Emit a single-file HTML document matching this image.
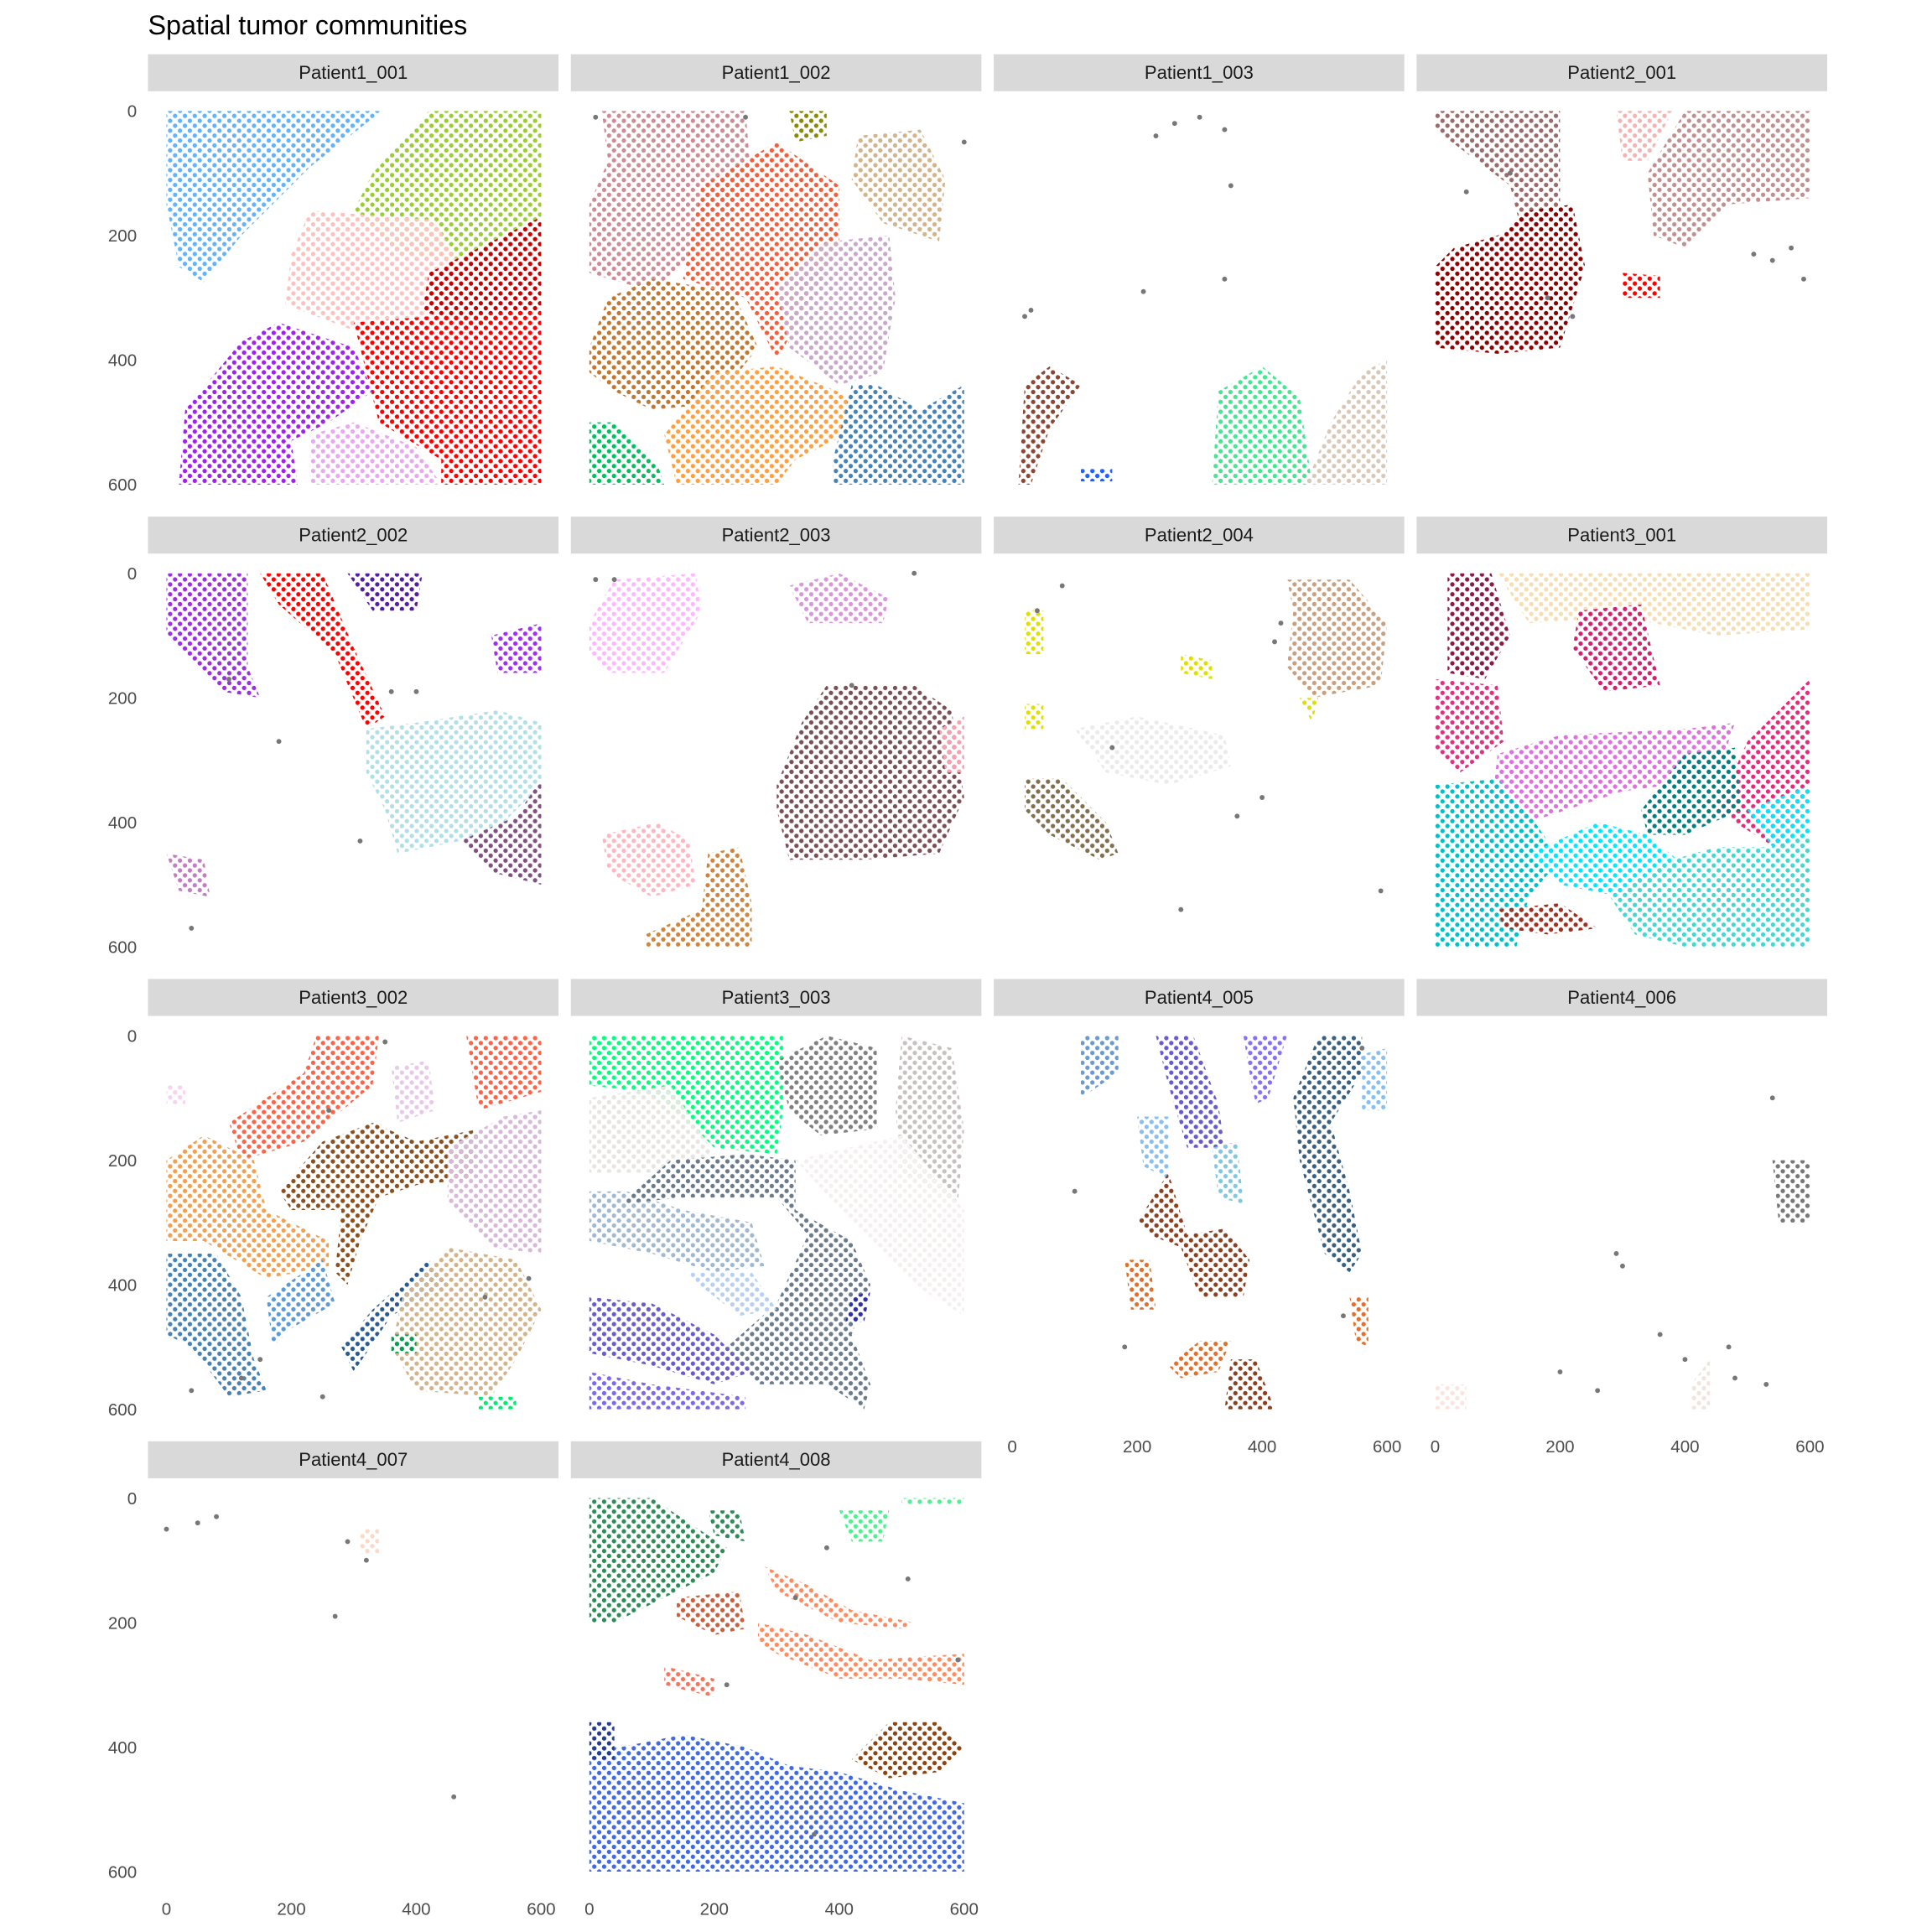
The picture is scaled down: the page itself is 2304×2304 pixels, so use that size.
<!DOCTYPE html>
<html><head><meta charset="utf-8"><style>
html,body{margin:0;padding:0;background:#fff}
svg{display:block}
text{font-family:"Liberation Sans",sans-serif}
</style></head><body>
<svg id="chart" width="2304" height="2304" viewBox="0 0 1567 1567" xmlns="http://www.w3.org/2000/svg">
<defs id="defs"></defs>
<text x="120" y="28" font-size="22" fill="#000">Spatial tumor communities</text>
<g id="panels"></g>
</svg>
<script>
const panelNames=["Patient1_001","Patient1_002","Patient1_003","Patient2_001","Patient2_002","Patient2_003","Patient2_004","Patient3_001","Patient3_002","Patient3_003","Patient4_005","Patient4_006","Patient4_007","Patient4_008"];
const tickValues=[0,200,400,600];
const communityPanel=[];
const communityColor=[];
const communityPoly=[];
function C(p,c,poly){communityPanel.push(p);communityColor.push(c);communityPoly.push(poly);}
// Patient1_001
C(0,"#63b3f9",[[0,0],[345,0],[230,90],[120,200],[60,275],[20,250],[0,150]]);
C(0,"#9acd32",[[420,0],[600,0],[600,170],[480,240],[370,230],[300,160],[330,100]]);
C(0,"#ffc0c0",[[230,160],[430,175],[470,250],[420,340],[320,360],[240,330],[190,310],[200,230]]);
C(0,"#c40000",[[420,260],[600,170],[600,320],[480,350],[410,320]]);
C(0,"#ff0000",[[300,340],[420,330],[600,320],[600,600],[440,600],[440,560],[340,500],[320,420]]);
C(0,"#a020f0",[[20,600],[30,480],[120,370],[180,340],[300,380],[330,450],[260,500],[200,530],[210,600]]);
C(0,"#e8a8ef",[[230,520],[300,500],[400,540],[440,600],[230,600]]);
// Patient1_002
C(1,"#cd8c95",[[20,0],[250,0],[260,120],[200,200],[100,290],[0,260],[0,150],[30,80]]);
C(1,"#f0603f",[[180,120],[300,50],[400,120],[400,220],[300,400],[250,300],[150,270]]);
C(1,"#8b8b00",[[320,0],[380,0],[380,40],[330,50]]);
C(1,"#d2b48c",[[430,40],[530,30],[570,110],[560,210],[470,180],[420,110]]);
C(1,"#c8a8c8",[[300,280],[380,210],[480,200],[490,300],[470,420],[400,440],[320,380]]);
C(1,"#c07830",[[0,380],[30,300],[100,270],[230,290],[270,380],[200,470],[100,480],[40,450],[0,420]]);
C(1,"#ffa040",[[120,520],[200,420],[300,410],[420,460],[410,520],[330,560],[300,600],[140,600]]);
C(1,"#4682b4",[[390,560],[420,440],[460,440],[530,480],[600,440],[600,600],[390,600]]);
C(1,"#00c060",[[0,500],[40,500],[110,570],[120,600],[0,600]]);
// Patient1_003
C(2,"#8b4533",[[10,600],[20,440],[60,410],[110,440],[60,510],[30,600]]);
C(2,"#40e890",[[320,600],[330,450],[400,410],[460,460],[480,600]]);
C(2,"#d8c8b8",[[470,600],[510,500],[560,420],[600,400],[600,600]]);
C(2,"#2060ff",[[110,575],[160,575],[160,595],[110,595]]);
// Patient2_001
C(3,"#9b6b6b",[[0,0],[200,0],[200,160],[140,200],[120,120],[0,30]]);
C(3,"#8b0000",[[0,250],[30,220],[100,200],[150,160],[220,150],[240,250],[200,380],[100,390],[0,380]]);
C(3,"#f4b4b4",[[290,0],[380,0],[340,80],[300,80]]);
C(3,"#c09090",[[400,0],[600,0],[600,140],[470,150],[400,220],[350,200],[340,100]]);
C(3,"#ff0000",[[300,260],[360,265],[360,300],[300,300]]);
// Patient2_002
C(4,"#9a30e0",[[0,0],[130,0],[130,150],[150,200],[90,190],[0,100]]);
C(4,"#ff0000",[[150,0],[250,0],[300,120],[350,230],[320,250],[270,130],[180,50]]);
C(4,"#5020a0",[[290,0],[410,0],[400,60],[330,60]]);
C(4,"#a030f0",[[520,100],[600,80],[600,160],[530,160]]);
C(4,"#b0e0e6",[[320,250],[400,240],[530,220],[600,240],[600,340],[520,420],[370,450],[350,380],[320,320]]);
C(4,"#805080",[[470,430],[560,390],[600,330],[600,500],[520,480]]);
C(4,"#c080c0",[[0,450],[60,460],[70,520],[20,510]]);
// Patient2_003
C(5,"#ffb8ff",[[0,80],[40,10],[170,0],[180,60],[120,160],[30,160],[0,130]]);
C(5,"#d898d8",[[320,20],[400,0],[480,40],[470,80],[350,80]]);
C(5,"#7a5058",[[300,340],[340,240],[380,180],[520,180],[580,220],[600,360],[560,450],[440,460],[320,460],[300,380]]);
C(5,"#f8a0b0",[[560,250],[600,230],[600,320],[570,320]]);
C(5,"#ffb6c1",[[20,420],[110,400],[160,430],[170,500],[100,520],[30,480]]);
C(5,"#cd853f",[[90,580],[180,540],[190,450],[240,440],[260,530],[260,600],[90,600]]);
// Patient2_004
C(6,"#c8a080",[[440,10],[540,10],[600,80],[590,180],[480,200],[440,150],[450,60]]);
C(6,"#ebebeb",[[100,250],[200,230],[340,260],[350,310],[250,340],[150,320]]);
C(6,"#e0e000",[[20,60],[50,60],[50,130],[20,130]]);
C(6,"#e0e000",[[20,210],[50,210],[50,250],[20,250]]);
C(6,"#e0e000",[[270,130],[320,140],[320,170],[270,160]]);
C(6,"#e0e000",[[460,200],[490,200],[480,240]]);
C(6,"#807050",[[20,330],[80,330],[150,400],[170,450],[140,460],[60,420],[20,380]]);
// Patient3_001
C(7,"#f5deb3",[[100,0],[600,0],[600,90],[450,100],[300,70],[150,80]]);
C(7,"#8b1a4a",[[20,0],[90,0],[120,100],[80,170],[20,160]]);
C(7,"#d02070",[[230,60],[330,50],[360,180],[270,190],[220,120]]);
C(7,"#e0307f",[[0,170],[100,180],[110,270],[40,320],[0,280]]);
C(7,"#e070e0",[[100,290],[200,260],[400,250],[480,240],[450,330],[300,350],[150,400],[90,380]]);
C(7,"#e8287a",[[450,380],[500,270],[600,170],[600,350],[560,450],[480,400]]);
C(7,"#00c0c8",[[0,340],[100,330],[160,400],[200,460],[150,520],[130,600],[0,600]]);
C(7,"#00e8ff",[[150,450],[260,400],[340,420],[400,470],[300,520],[200,500]]);
C(7,"#40d8d0",[[280,520],[380,460],[450,440],[540,440],[600,400],[600,600],[400,600],[320,580]]);
C(7,"#00e8ff",[[500,380],[600,340],[600,420],[540,440]]);
C(7,"#008080",[[330,380],[400,290],[480,280],[490,380],[400,420],[340,420]]);
C(7,"#a03020",[[100,540],[200,530],[260,570],[180,580],[110,570]]);
// Patient3_002
C(8,"#ff6347",[[100,140],[220,60],[240,0],[340,0],[330,80],[220,170],[120,200]]);
C(8,"#ff6347",[[480,0],[600,0],[600,90],[500,120]]);
C(8,"#e8c8e8",[[360,50],[420,40],[430,120],[370,140]]);
C(8,"#f0a050",[[0,200],[60,160],[140,200],[160,280],[260,330],[260,370],[160,390],[60,330],[0,330]]);
C(8,"#8b5020",[[180,250],[250,170],[330,140],[400,170],[500,150],[490,230],[400,240],[340,260],[310,330],[290,400],[270,380],[280,280],[200,280]]);
C(8,"#d8b8d8",[[450,180],[540,130],[600,120],[600,350],[520,340],[450,270]]);
C(8,"#4682b4",[[0,350],[80,350],[120,420],[140,520],[160,570],[100,580],[40,500],[0,480]]);
C(8,"#5a9ad8",[[160,420],[250,360],[270,430],[200,470],[170,500]]);
C(8,"#2a5a90",[[280,500],[330,440],[420,360],[450,400],[360,450],[300,540]]);
C(8,"#d2b48c",[[380,410],[450,340],[560,360],[600,440],[560,520],[520,580],[400,570],[360,500]]);
C(8,"#00a050",[[360,480],[400,480],[400,510],[360,510]]);
C(8,"#00ee70",[[500,580],[560,580],[560,600],[500,600]]);
C(8,"#f8d0f0",[[0,80],[30,80],[30,110],[0,110]]);
// Patient3_003
C(9,"#00ff7f",[[0,0],[310,0],[310,120],[300,190],[200,180],[150,130],[90,90],[0,80]]);
C(9,"#808080",[[300,40],[380,0],[460,20],[460,150],[370,160],[320,120]]);
C(9,"#c8c0c0",[[500,0],[580,20],[600,150],[590,270],[500,220],[490,120]]);
C(9,"#e8e4e0",[[0,100],[130,80],[200,190],[100,220],[0,220]]);
C(9,"#f4f0f0",[[330,200],[500,160],[600,280],[600,450],[520,400],[420,300]]);
C(9,"#a0b8d0",[[0,250],[60,250],[150,280],[260,300],[280,370],[200,380],[100,350],[0,330]]);
C(9,"#6b7b8b",[[50,270],[130,200],[250,190],[330,200],[330,280],[420,330],[450,400],[420,480],[450,560],[440,600],[380,560],[270,560],[220,500],[300,430],[350,320],[300,260],[150,260]]);
C(9,"#b8d0f0",[[150,380],[260,380],[300,440],[240,450]]);
C(9,"#6a5acd",[[0,420],[100,430],[200,480],[260,540],[200,560],[100,530],[0,510]]);
C(9,"#7b68ee",[[0,540],[100,560],[250,580],[250,600],[0,600]]);
C(9,"#3030a0",[[420,420],[450,410],[440,460],[410,460]]);
// Patient4_005
C(10,"#6a9ad0",[[110,0],[170,0],[170,60],[110,100]]);
C(10,"#6a5acd",[[230,0],[290,0],[330,110],[340,180],[280,180],[250,80]]);
C(10,"#8870f0",[[370,0],[440,0],[410,100],[390,110],[380,60]]);
C(10,"#3a6080",[[450,100],[490,0],[560,0],[560,60],[510,140],[540,250],[560,350],[540,380],[500,350],[460,200]]);
C(10,"#87c0f0",[[560,30],[600,20],[600,120],[560,120]]);
C(10,"#87c0f0",[[200,130],[250,130],[250,230],[210,210]]);
C(10,"#80c8e0",[[320,180],[360,170],[370,270],[330,260]]);
C(10,"#8b4020",[[200,300],[250,220],[280,320],[340,310],[380,360],[370,420],[300,420],[270,340],[220,320]]);
C(10,"#8b4020",[[340,600],[350,520],[390,520],[420,600]]);
C(10,"#e0702e",[[180,360],[220,360],[230,440],[190,440]]);
C(10,"#e0702e",[[250,530],[300,490],[350,490],[330,540],[270,550]]);
C(10,"#e0702e",[[540,420],[570,420],[570,500],[550,490]]);
// Patient4_006
C(11,"#fbe4dc",[[0,560],[50,560],[50,600],[0,600]]);
C(11,"#f0e4dc",[[410,560],[440,520],[440,600],[410,600]]);
C(11,"#777777",[[540,200],[600,200],[600,300],[550,300]]);
// Patient4_007
C(12,"#fbd8c8",[[310,50],[340,50],[340,90],[310,90]]);
// Patient4_008
C(13,"#2e8b57",[[0,0],[100,0],[220,80],[200,120],[120,160],[40,200],[0,200]]);
C(13,"#2e8b57",[[190,20],[240,20],[250,70],[200,60]]);
C(13,"#50f090",[[400,20],[480,20],[470,70],[420,70]]);
C(13,"#50f090",[[500,0],[600,0],[600,10],[500,10]]);
C(13,"#c86040",[[140,160],[240,150],[250,210],[200,220],[140,190]]);
C(13,"#ff8c60",[[280,110],[350,140],[420,180],[520,200],[500,210],[400,200],[300,150]]);
C(13,"#ff8c60",[[270,200],[350,220],[450,260],[600,250],[600,300],[500,290],[400,290],[300,250],[270,230]]);
C(13,"#f07860",[[120,270],[200,290],[200,320],[120,300]]);
C(13,"#4169e1",[[0,400],[50,400],[150,380],[250,400],[320,430],[400,440],[500,470],[600,490],[600,600],[0,600]]);
C(13,"#283c8c",[[0,360],[40,360],[40,420],[0,420]]);
C(13,"#8b4513",[[420,420],[480,360],[560,360],[600,400],[560,440],[480,450]]);
// grey outlier cells
const greyPanel=[1,1,1,2,2,2,2,2,2,2,2,2,3,3,3,3,3,3,3,3,4,4,4,4,4,4,5,5,5,5,6,6,6,6,6,6,6,6,6,8,8,8,8,8,8,8,8,10,10,10,10,11,11,11,11,11,11,11,11,11,11,12,12,12,12,12,12,12,13,13,13,13,13,13];
const greyX=[10,600,250,260,300,20,30,230,340,350,210,340,120,50,570,590,510,540,180,220,360,400,180,310,40,100,10,40,520,420,80,40,420,430,400,360,270,590,160,40,120,150,250,350,260,510,580,100,180,530,560,540,300,290,200,260,470,400,360,480,530,0,50,80,290,270,320,460,330,380,510,590,360,220];
const greyY=[10,50,10,20,10,330,320,40,30,120,290,270,100,130,220,270,230,240,300,330,190,190,270,430,570,170,10,10,0,180,20,60,110,80,360,390,540,510,280,570,550,520,580,10,120,420,390,250,500,450,20,100,370,350,540,570,500,520,480,550,560,50,40,30,70,190,100,480,160,80,130,260,540,300];

const X0=[135,478,821,1164], Y0=[90,465,840,1215];
const KX=304/600, KY=303/600;
function sx(p,v){return X0[p%4]+v*KX;}
function sy(p,v){return Y0[Math.floor(p/4)]+v*KY;}

const NS="http://www.w3.org/2000/svg";
const defs=document.getElementById('defs');
const root=document.getElementById('panels');
function el(t,a,parent){const e=document.createElementNS(NS,t);for(const k in a)e.setAttribute(k,a[k]);(parent||root).appendChild(e);return e;}
const pats={};
function pat(c){
  if(pats[c])return pats[c];
  const id="p"+Object.keys(pats).length;
  const p=el("pattern",{id:id,width:8,height:8,patternUnits:"userSpaceOnUse"},defs);
  el("circle",{cx:2,cy:2,r:1.8,fill:c},p);
  el("circle",{cx:6,cy:6,r:1.8,fill:c},p);
  pats[c]=id;return id;
}
panelNames.forEach((n,p)=>{
  const g=el("g",{});
  
  
  const x=X0[p%4]-15,y=Y0[Math.floor(p/4)]-46;
  const r=el("rect",{x:x,y:y,width:333,height:30,fill:"#d9d9d9"},g);
  
  
  const t=el("text",{x:x+166.5,y:y+20,"font-size":15,"text-anchor":"middle",fill:"#1a1a1a"},g);
  t.textContent=n;
  
  
});
communityPanel.forEach((p,i)=>{
  const pts=communityPoly[i].map(q=>sx(p,q[0]).toFixed(1)+","+sy(p,q[1]).toFixed(1)).join(" ");
  const e=el("polygon",{points:pts,fill:"url(#"+pat(communityColor[i])+")"});
  
  
});
greyPanel.forEach((p,i)=>{
  const e=el("circle",{cx:sx(p,greyX[i]),cy:sy(p,greyY[i]),r:2,fill:"#777"});
  
  
});
for(let row=0;row<4;row++){
  tickValues.forEach(v=>{
    const t=el("text",{x:111,y:sy(row*4,v)+5,"font-size":14,"text-anchor":"end",fill:"#4d4d4d"});
    t.textContent=v;
    
    
  });
}
[[12,1548],[13,1548],[10,1173],[11,1173]].forEach(([p,yy])=>{
  tickValues.forEach(v=>{
    const t=el("text",{x:sx(p,v),y:yy+5,"font-size":14,"text-anchor":"middle",fill:"#4d4d4d"});
    t.textContent=v;
    
    
  });
});
</script>
</body></html>
